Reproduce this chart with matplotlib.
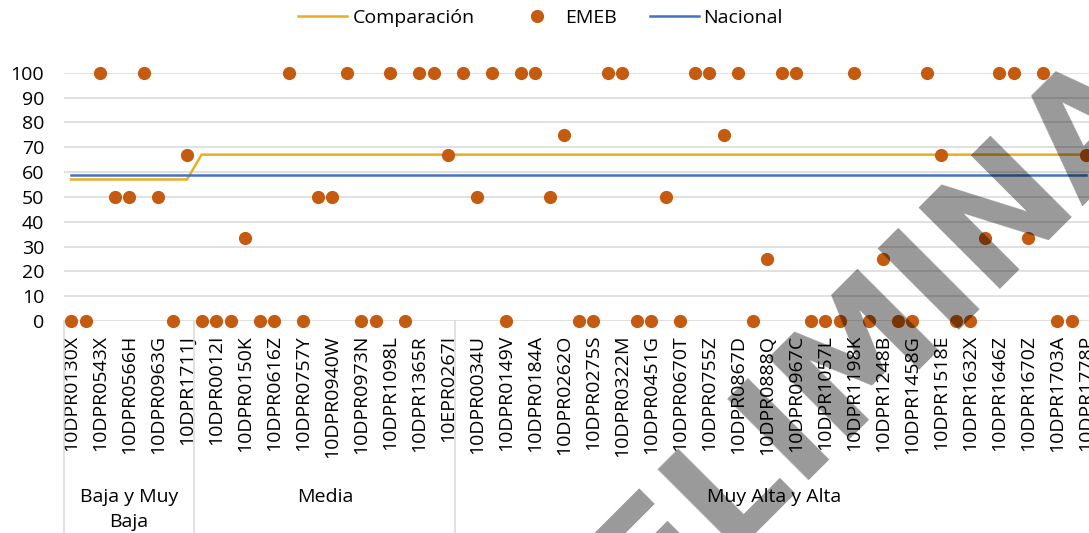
import numpy as np
import matplotlib
matplotlib.use('Agg')
import matplotlib.pyplot as plt
from matplotlib.lines import Line2D

plt.rcParams['font.family'] = ['Open Sans', 'DejaVu Sans']

# etiquetas visibles en el eje (una de cada dos escuelas)
tick_labels = [
    '10DPR0130X', '10DPR0543X', '10DPR0566H', '10DPR0963G', '10DPR1711J',
    '10DPR0012I', '10DPR0150K', '10DPR0616Z', '10DPR0757Y', '10DPR0940W',
    '10DPR0973N', '10DPR1098L', '10DPR1365R', '10EPR0267I', '10DPR0034U',
    '10DPR0149V', '10DPR0184A', '10DPR0262O', '10DPR0275S', '10DPR0322M',
    '10DPR0451G', '10DPR0670T', '10DPR0755Z', '10DPR0867D', '10DPR0888Q',
    '10DPR0967C', '10DPR1057L', '10DPR1198K', '10DPR1248B', '10DPR1458G',
    '10DPR1518E', '10DPR1632X', '10DPR1646Z', '10DPR1670Z', '10DPR1703A',
    '10DPR1778P',
]

# porcentaje EMEB por escuela
emeb = [
    0, 0, 100, 50, 50, 100, 50, 0, 66.7,
    0, 0, 0, 33.3, 0, 0, 100, 0, 50, 50, 100, 0, 0, 100, 0, 100, 100, 66.7,
    100, 50, 100, 0, 100, 100, 50, 75, 0, 0, 100, 100, 0, 0, 50, 0, 100, 100,
    75, 100, 0, 25, 100, 100, 0, 0, 0, 100, 0, 25, 0, 0, 100, 66.7, 0, 0,
    33.3, 100, 100, 33.3, 100, 0, 0, 66.7,
]

grupos = ['Baja y Muy\nBaja', 'Media', 'Muy Alta y Alta']
tam_grupos = [9, 18, 44]
comparacion_grupo = [57, 67, 67]
nacional = 59

naranja = '#C55A11'
amarillo = '#EBAE1E'
azul = '#4472C4'
gris = '#D9D9D9'

n = len(emeb)
x = np.arange(n)
comparacion = np.repeat(comparacion_grupo, tam_grupos)

W, H = 1089, 533
fig = plt.figure(figsize=(W / 100, H / 100), dpi=100)
ax = fig.add_axes([63.75 / W, 1 - 321 / H, (1093.5 - 63.75) / W, 248.3 / H])

ax.plot(x, comparacion, color=amarillo, lw=1.8, zorder=3)
ax.plot(x, np.full(n, nacional), color=azul, lw=1.8, zorder=3)
ax.plot(x, emeb, 'o', color=naranja, ms=9.5, mec='none', zorder=4, clip_on=False)

ax.set_xlim(-0.5, n - 0.5)
ax.set_ylim(0, 100)
ax.set_yticks(range(0, 101, 10))
ax.yaxis.grid(True, color=gris, lw=1.1)
ax.set_axisbelow(True)
for s in ax.spines.values():
    s.set_visible(False)

ax.set_xticks(x[::2])
ax.set_xticklabels(tick_labels, rotation=90, fontsize=14)
ax.tick_params(axis='x', length=0, pad=10)
ax.tick_params(axis='y', length=0, pad=14, labelsize=14)

# separadores de grupos y nombres de grupo
trans = ax.get_xaxis_transform()
fondo = -(H - 321) / 248.3
bordes = np.concatenate([[0], np.cumsum(tam_grupos)]) - 0.5
for b in bordes:
    ax.plot([b, b], [0, fondo], color=gris, lw=1.1, transform=trans, clip_on=False)
for g, a, b in zip(grupos, bordes[:-1], bordes[1:]):
    ax.text((a + b) / 2, -0.672, g, ha='center', va='top', fontsize=14,
            transform=trans, linespacing=1.5)

# leyenda
ly = 1 - 18 / H
fig.legend([Line2D([], [], color=amarillo, lw=1.8)], ['Comparación'],
           loc='center left', bbox_to_anchor=(298 / W, ly), frameon=False,
           handlelength=2.5, handletextpad=0.3, borderpad=0, borderaxespad=0,
           fontsize=14)
fig.legend([Line2D([], [], ls='none', marker='o', color=naranja, ms=9.5, mec='none')],
           ['EMEB'], loc='center left', bbox_to_anchor=(527 / W, ly), frameon=False,
           handlelength=1, handletextpad=0.95, borderpad=0, borderaxespad=0,
           fontsize=14)
fig.legend([Line2D([], [], color=azul, lw=1.8)], ['Nacional'],
           loc='center left', bbox_to_anchor=(650 / W, ly), frameon=False,
           handlelength=2.5, handletextpad=0.25, borderpad=0, borderaxespad=0,
           fontsize=14)

# marca de agua
fig.text(1000 / W, 1 - 275 / H, 'ELIMINADO', rotation=45, rotation_mode='anchor',
         ha='center', va='baseline', fontsize=112, family='DejaVu Sans',
         weight='bold', color='black', alpha=0.4, zorder=10)

fig.savefig('out.png', dpi=100)
